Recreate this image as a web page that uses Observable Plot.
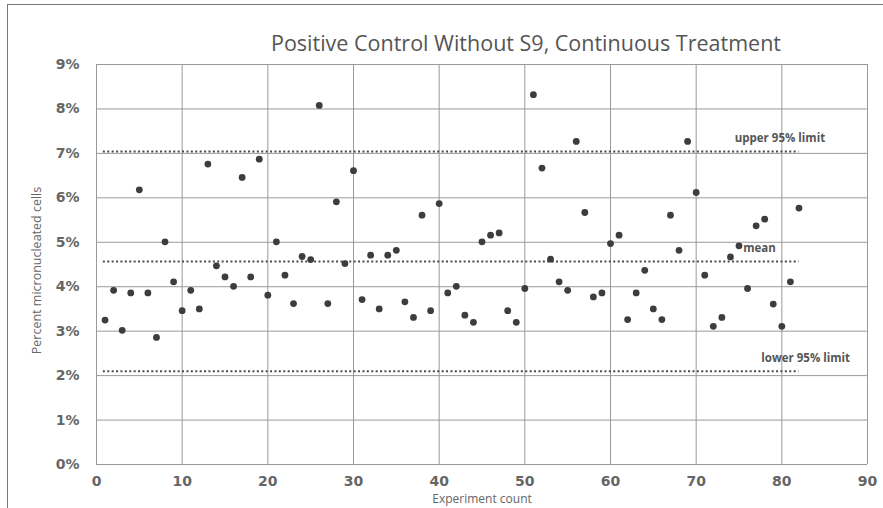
<!DOCTYPE html>
<html><head><meta charset="utf-8">
<script src="https://cdn.jsdelivr.net/npm/d3@7"></script>
<script src="https://cdn.jsdelivr.net/npm/@observablehq/plot@0.6"></script>
<style>
body{margin:0;background:#fff;}
#wrap{position:relative;width:883px;height:508px;overflow:hidden;}
#frame{position:absolute;left:7px;top:4px;right:-2px;bottom:-2px;border-top:1px solid #777;border-left:1px solid #777;pointer-events:none;}
</style></head><body><div id="wrap"><div id="frame"></div></div>
<script>
const chartTitle = "Positive Control Without S9, Continuous Treatment";
const xLabel = "Experiment count";
const yLabel = "Percent micronucleated cells";
const experiment = [1,2,3,4,5,6,7,8,9,10,11,12,13,14,15,16,17,18,19,20,21,22,23,24,25,26,27,28,29,30,31,32,33,34,35,36,37,38,39,40,41,42,43,44,45,46,47,48,49,50,51,52,53,54,55,56,57,58,59,60,61,62,63,64,65,66,67,68,69,70,71,72,73,74,75,76,77,78,79,80,81,82];
const percent = [3.25,3.92,3.02,3.86,6.18,3.86,2.86,5.01,4.11,3.46,3.92,3.50,6.76,4.47,4.22,4.01,6.46,4.22,6.87,3.81,5.01,4.26,3.62,4.68,4.61,8.08,3.62,5.91,4.52,6.61,3.71,4.71,3.50,4.71,4.82,3.66,3.31,5.61,3.46,5.87,3.86,4.01,3.36,3.20,5.01,5.16,5.21,3.46,3.20,3.96,8.32,6.67,4.62,4.11,3.92,7.27,5.67,3.77,3.86,4.97,5.16,3.26,3.86,4.37,3.50,3.26,5.61,4.82,7.27,6.12,4.26,3.11,3.31,4.67,4.92,3.96,5.37,5.52,3.61,3.11,4.11,5.77];
const limitNames = ["upper 95% limit", "mean", "lower 95% limit"];
const limitValues = [7.04, 4.57, 2.10];
const limitLabelX = [74.5, 75.5, 77.6];
const xTicks = [0,10,20,30,40,50,60,70,80,90];
const yTicks = [0,1,2,3,4,5,6,7,8,9];
const limitSpan = [0.8, 82];

const points = experiment.map((e,i)=>({e, p: percent[i]}));

const chart = Plot.plot({
  width: 883, height: 508,
  marginLeft: 96, marginRight: 16, marginTop: 64, marginBottom: 44,
  style: {fontFamily: "'Open Sans', sans-serif", background: "transparent"},
  x: {domain: [0, 90], ticks: xTicks},
  y: {domain: [0, 9], ticks: yTicks},
  marks: [
    Plot.ruleX(xTicks, {stroke: "#9a9a9a", strokeWidth: 1}),
    Plot.ruleY(yTicks, {stroke: "#9a9a9a", strokeWidth: 1}),
    Plot.ruleY(limitValues, {x1: limitSpan[0], x2: limitSpan[1], stroke: "#4a4a4a", strokeWidth: 2, strokeDasharray: "2,2.4"}),
    Plot.dot(points, {x: "e", y: "p", r: 3.4, fill: "#3d3d3d", stroke: "none"}),
    Plot.text(limitNames, {x: (d,i)=>limitLabelX[i], y: (d,i)=>limitValues[i], text: d=>d, textAnchor: "start", dy: -13, fontSize: 11.5, fontWeight: "bold", fill: "#555"}),
    Plot.axisX({ticks: xTicks, tickSize: 0, tickPadding: 12, fontSize: 14, fontWeight: "bold", fontFamily: "'DejaVu Sans'", color: "#666", label: null}),
    Plot.axisY({ticks: yTicks, tickSize: 0, tickPadding: 17, tickFormat: d => d + "%", fontSize: 14, fontWeight: "bold", fontFamily: "'DejaVu Sans'", color: "#666", label: null}),
    Plot.text([chartTitle], {frameAnchor: "top", text: d=>d, dx: 44, dy: -29, fontSize: 21.5, fill: "#555"}),
    Plot.text([xLabel], {frameAnchor: "bottom", text: d=>d, dy: 38.5, fontSize: 12, fill: "#666"}),
    Plot.text([yLabel], {frameAnchor: "left", text: d=>d, textAnchor: "middle", rotate: -90, dx: -60, dy: 6, fontSize: 12.5, fill: "#666"})
  ]
});
document.getElementById("wrap").prepend(chart);
</script></body></html>
